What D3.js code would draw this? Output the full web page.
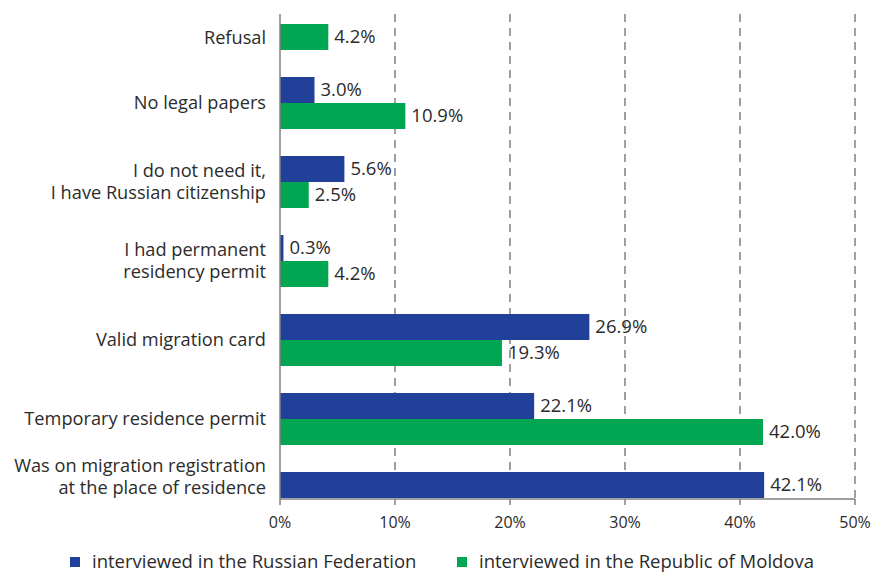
<!DOCTYPE html>
<html>
<head>
<meta charset="utf-8">
<script src="https://d3js.org/d3.v7.min.js"></script>
<style>
  body { margin: 0; background: #fff; }
  text { font-family: "Open Sans", Lato, sans-serif; fill: #2b2b2b; }
</style>
</head>
<body>
<svg width="874" height="572"></svg>
<script>
"use strict";

// categories top to bottom, multi-line labels split with "\n"
var categories = [
    "Refusal",
    "No legal papers",
    "I do not need it,\nI have Russian citizenship",
    "I had permanent\nresidency permit",
    "Valid migration card",
    "Temporary residence permit",
    "Was on migration registration\nat the place of residence"
];
var russia  = [null, 3.0, 5.6, 0.3, 26.9, 22.1, 42.1];
var moldova = [4.2, 10.9, 2.5, 4.2, 19.3, 42.0, null];
var seriesNames = ["interviewed in the Russian Federation", "interviewed in the Republic of Moldova"];
var ticks = [0, 10, 20, 30, 40, 50];

var colors = ["#21409a", "#00a651"];

var svg = d3.select("svg");
var plotTop = 14, plotBottom = 499;

var x = d3.scaleLinear().domain([0, 50]).range([280, 855]);
var y = d3.scaleBand().domain(categories).range([-15.5, 537.5]);
var ySub = d3.scaleBand().domain([0, 1]).range([13.5, 65.5]);

// dashed gridlines
svg.append("g").selectAll("line")
    .data(ticks.slice(1))
    .enter().append("line")
    .attr("x1", d => x(d)).attr("x2", d => x(d))
    .attr("y1", plotTop).attr("y2", plotBottom)
    .attr("stroke", "#808080")
    .attr("stroke-width", 1.5)
    .attr("stroke-dasharray", "8,6");

// bars
var rows = categories.map((c, i) => [
    {cat: c, s: 0, v: russia[i]},
    {cat: c, s: 1, v: moldova[i]}
]);

var groups = svg.append("g").selectAll("g")
    .data(rows)
    .enter().append("g")
    .attr("transform", d => "translate(0," + y(d[0].cat) + ")");

var bars = groups.selectAll("g")
    .data(d => d.filter(b => b.v !== null))
    .enter().append("g");

bars.append("rect")
    .attr("x", x(0))
    .attr("y", d => ySub(d.s))
    .attr("width", d => x(d.v) - x(0))
    .attr("height", ySub.bandwidth())
    .attr("fill", d => colors[d.s]);

bars.append("text")
    .attr("x", d => x(d.v) + 6)
    .attr("y", d => ySub(d.s) + ySub.bandwidth() / 2)
    .attr("dy", "0.35em")
    .style("font-size", "18.5px")
    .text(d => d.v.toFixed(1) + "%");

// axes lines
svg.append("line")
    .attr("x1", x(0)).attr("x2", x(0))
    .attr("y1", plotTop).attr("y2", plotBottom)
    .attr("stroke", "#808080").attr("stroke-width", 1.5);

var xAxis = svg.append("g").attr("transform", "translate(0," + plotBottom + ")");
xAxis.append("line")
    .attr("x1", x(0)).attr("x2", x(50))
    .attr("stroke", "#808080").attr("stroke-width", 1.5);
xAxis.selectAll(".tick")
    .data(ticks)
    .enter().append("line")
    .attr("x1", d => x(d)).attr("x2", d => x(d))
    .attr("y1", 0).attr("y2", 6)
    .attr("stroke", "#808080").attr("stroke-width", 1.5);
xAxis.selectAll("text")
    .data(ticks)
    .enter().append("text")
    .attr("x", d => x(d))
    .attr("y", 23)
    .attr("dy", "0.35em")
    .attr("text-anchor", "middle")
    .style("font-size", "16px")
    .text(d => d + "%");

// category labels
var labels = svg.append("g").selectAll("text")
    .data(categories)
    .enter().append("text")
    .attr("text-anchor", "end")
    .style("font-size", "18.2px")
    .attr("transform", d => {
        var cy = y(d) + y.bandwidth() / 2;
        cy = Math.max(38, Math.min(477, cy));
        return "translate(266," + cy + ")";
    });

labels.each(function(d) {
    var lines = d.split("\n");
    var t = d3.select(this);
    lines.forEach((l, i) => {
        t.append("tspan")
            .attr("x", 0)
            .attr("y", (i - (lines.length - 1) / 2) * 22)
            .attr("dy", "0.35em")
            .text(l);
    });
});

// legend
var legendX = [70, 457];
var legend = svg.append("g").selectAll("g")
    .data(seriesNames)
    .enter().append("g")
    .attr("transform", (d, i) => "translate(" + legendX[i] + ",562)");
legend.append("rect")
    .attr("x", 0).attr("y", -5)
    .attr("width", 10).attr("height", 10)
    .attr("fill", (d, i) => colors[i]);
legend.append("text")
    .attr("x", 22)
    .attr("dy", "0.35em")
    .style("font-size", "18.5px")
    .text(d => d);
</script>
</body>
</html>
